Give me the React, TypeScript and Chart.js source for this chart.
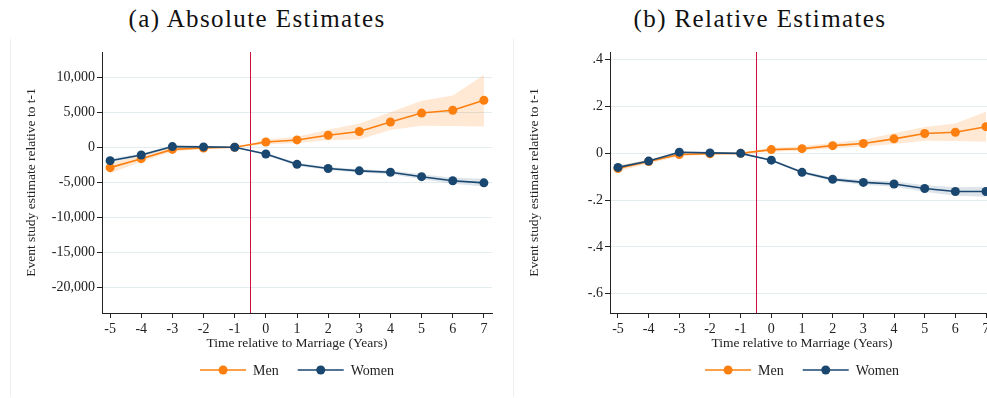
import React, { useEffect, useRef } from "react";
import { Chart, registerables } from "chart.js";

Chart.register(...registerables);

// ---------- data ----------
const years = [-5, -4, -3, -2, -1, 0, 1, 2, 3, 4, 5, 6, 7];

const absMen = [-2900, -1620, -300, -100, 0, 750, 1050, 1710, 2260, 3600, 4880, 5280, 6700];
const absMenLo = [-3700, -2050, -600, -250, 0, 400, 600, 1000, 1100, 2450, 3080, 3040, 2950];
const absMenHi = [-2250, -1200, 0, 50, 0, 1100, 1500, 2500, 3400, 5000, 6650, 7400, 10300];
const absWomen = [-1910, -1100, 100, 60, 0, -950, -2430, -3030, -3360, -3560, -4190, -4770, -5070];
const absWomenLo = [-2150, -1300, -50, -50, 0, -1150, -2650, -3250, -3600, -3850, -4550, -5200, -5600];
const absWomenHi = [-1650, -900, 250, 170, 0, -750, -2200, -2800, -3120, -3300, -3850, -4350, -4500];

const relMen = [-0.065, -0.035, -0.005, -0.002, 0, 0.016, 0.02, 0.033, 0.042, 0.062, 0.085, 0.09, 0.114];
const relMenLo = [-0.078, -0.043, -0.012, -0.006, 0, 0.008, 0.011, 0.022, 0.028, 0.04, 0.054, 0.053, 0.05];
const relMenHi = [-0.052, -0.027, 0.002, 0.002, 0, 0.024, 0.03, 0.045, 0.058, 0.086, 0.113, 0.128, 0.178];
const relWomen = [-0.06, -0.033, 0.005, 0.002, 0, -0.029, -0.081, -0.111, -0.124, -0.131, -0.15, -0.163, -0.163];
const relWomenLo = [-0.066, -0.038, 0.001, -0.001, 0, -0.033, -0.087, -0.119, -0.134, -0.143, -0.164, -0.181, -0.185];
const relWomenHi = [-0.054, -0.028, 0.009, 0.005, 0, -0.025, -0.075, -0.103, -0.114, -0.119, -0.136, -0.145, -0.143];

const xTicks = [-5, -4, -3, -2, -1, 0, 1, 2, 3, 4, 5, 6, 7];
const absTicks = [-20000, -15000, -10000, -5000, 0, 5000, 10000];
const absTickLabels = ["-20,000", "-15,000", "-10,000", "-5,000", "0", "5,000", "10,000"];
const relTicks = [-0.6, -0.4, -0.2, 0, 0.2, 0.4];
const relTickLabels = ["-.6", "-.4", "-.2", "0", ".2", ".4"];

const seriesLabels = ["Men", "Women"];
const markerYear = -0.5;
const xTitle = "Time relative to Marriage (Years)";
const yTitle = "Event study estimate relative to t-1";
const panelTitles = ["(a) Absolute Estimates", "(b) Relative Estimates"];

// ---------- style ----------
const ORANGE = "#fd7f0f";
const NAVY = "#1a476f";
const ORANGE_BAND = "rgba(253,127,15,0.18)";
const NAVY_BAND = "rgba(26,71,111,0.15)";
const RED = "#d0103a";
const GRID = "#e3ecef";
const AXIS = "#222222";
const FONT = "'Liberation Serif', 'Times New Roman', serif";

const pts = (vals: number[]) => years.map((x, i) => ({ x, y: vals[i] }));

const markerPlugin = {
  id: "marker",
  beforeDatasetsDraw(chart: any) {
    const { ctx, chartArea, scales } = chart;
    const x = Math.round(scales.x.getPixelForValue(markerYear)) + 0.5;
    ctx.save();
    ctx.strokeStyle = RED;
    ctx.lineWidth = 1;
    ctx.beginPath();
    ctx.moveTo(x, chartArea.top);
    ctx.lineTo(x, chartArea.bottom);
    ctx.stroke();
    ctx.restore();
  },
};

const legendPlugin = {
  id: "customLegend",
  afterDraw(chart: any) {
    const { ctx, chartArea } = chart;
    const items = chart.data.datasets.filter((d: any) => d.isSeries);
    ctx.save();
    ctx.font = `14px ${FONT}`;
    const lineW = 46, gap = 7, itemGap = 19;
    const widths = items.map((d: any) => ctx.measureText(d.label).width);
    let total = 0;
    items.forEach((_: any, i: number) => {
      total += lineW + gap + widths[i] + (i < items.length - 1 ? itemGap : 0);
    });
    let x = (chartArea.left + chartArea.right) / 2 - total / 2;
    const y = 370;
    items.forEach((d: any, i: number) => {
      ctx.strokeStyle = d.borderColor;
      ctx.lineWidth = 1.6;
      ctx.beginPath();
      ctx.moveTo(x, y);
      ctx.lineTo(x + lineW, y);
      ctx.stroke();
      ctx.fillStyle = d.borderColor;
      ctx.beginPath();
      ctx.arc(x + lineW / 2, y, 4.5, 0, Math.PI * 2);
      ctx.fill();
      ctx.fillStyle = AXIS;
      ctx.textAlign = "left";
      ctx.textBaseline = "middle";
      ctx.fillText(d.label, x + lineW + gap, y + 1);
      x += lineW + gap + widths[i] + itemGap;
    });
    ctx.restore();
  },
};

type PanelCfg = {
  men: number[]; menLo: number[]; menHi: number[];
  women: number[]; womenLo: number[]; womenHi: number[];
  yTicks: number[]; yLabels: string[];
  yMin: number; yMax: number;
  yAxisWidth: number; rightPad: number;
};

function buildChart(canvas: HTMLCanvasElement, p: PanelCfg) {
  const band = (data: number[], color: string, fill: any, order: number) => ({
    label: "",
    data: pts(data),
    borderWidth: 0,
    borderColor: "transparent",
    backgroundColor: color,
    pointRadius: 0,
    fill,
    order,
    tension: 0,
  });
  const series = (label: string, data: number[], color: string, order: number) => ({
    label,
    isSeries: true,
    data: pts(data),
    borderColor: color,
    backgroundColor: color,
    borderWidth: 1.6,
    pointRadius: 4.5,
    pointBorderWidth: 0,
    pointBackgroundColor: color,
    fill: false,
    order,
    tension: 0,
  });
  return new Chart(canvas, {
    type: "line",
    data: {
      datasets: [
        band(p.menHi, ORANGE_BAND, false, 3),
        band(p.menLo, ORANGE_BAND, 0, 3),
        band(p.womenHi, NAVY_BAND, false, 2),
        band(p.womenLo, NAVY_BAND, 2, 2),
        series(seriesLabels[0], p.men, ORANGE, 1),
        series(seriesLabels[1], p.women, NAVY, 0),
      ] as any,
    },
    options: {
      animation: false,
      responsive: false,
      events: [],
      layout: { padding: { top: 52, right: p.rightPad, left: 0, bottom: 0 } },
      plugins: { legend: { display: false }, tooltip: { enabled: false }, title: { display: false } },
      scales: {
        x: {
          type: "linear",
          min: -5.26,
          max: 7.26,
          afterBuildTicks: (s: any) => { s.ticks = xTicks.map((v) => ({ value: v })); },
          afterFit: (s: any) => { s.height = 85; },
          grid: { display: true, drawOnChartArea: false, drawTicks: true, tickLength: 5, tickColor: AXIS },
          border: { display: true, color: AXIS, width: 1 },
          ticks: { color: AXIS, font: { family: FONT, size: 14 }, padding: 3, maxRotation: 0, autoSkip: false },
          title: { display: true, text: xTitle, color: AXIS, font: { family: FONT, size: 13.5 }, padding: { top: 0, bottom: 46 } },
        },
        y: {
          type: "linear",
          min: p.yMin,
          max: p.yMax,
          afterBuildTicks: (s: any) => { s.ticks = p.yTicks.map((v) => ({ value: v })); },
          afterFit: (s: any) => { s.width = p.yAxisWidth; },
          grid: { display: true, drawOnChartArea: true, color: GRID, lineWidth: 1, drawTicks: true, tickLength: 5, tickColor: AXIS },
          border: { display: true, color: AXIS, width: 1 },
          ticks: {
            color: AXIS,
            font: { family: FONT, size: 14 },
            padding: 2,
            autoSkip: false,
            callback: (v: any) => p.yLabels[p.yTicks.indexOf(v)] ?? "",
          },
          title: { display: true, text: yTitle, color: AXIS, font: { family: FONT, size: 13.5 }, padding: { top: 23, bottom: 0 } },
        },
      },
    } as any,
    plugins: [markerPlugin, legendPlugin],
  });
}

export default function App() {
  const leftRef = useRef<HTMLCanvasElement>(null);
  const rightRef = useRef<HTMLCanvasElement>(null);

  useEffect(() => {
    const a = buildChart(leftRef.current!, {
      men: absMen, menLo: absMenLo, menHi: absMenHi,
      women: absWomen, womenLo: absWomenLo, womenHi: absWomenHi,
      yTicks: absTicks, yLabels: absTickLabels,
      yMin: -23630, yMax: 13590, yAxisWidth: 102, rightPad: 11,
    });
    const b = buildChart(rightRef.current!, {
      men: relMen, menLo: relMenLo, menHi: relMenHi,
      women: relWomen, womenLo: relWomenLo, womenHi: relWomenHi,
      yTicks: relTicks, yLabels: relTickLabels,
      yMin: -0.682, yMax: 0.433, yAxisWidth: 107, rightPad: 12,
    });
    return () => { a.destroy(); b.destroy(); };
  }, []);

  const titleStyle = (center: number): React.CSSProperties => ({
    position: "absolute",
    left: center - 250,
    width: 500,
    top: 6,
    textAlign: "center",
    fontFamily: FONT,
    fontSize: 25,
    lineHeight: "25px",
    letterSpacing: "1.4px",
    color: "#111",
    whiteSpace: "nowrap",
  });
  const border = (x: number): React.CSSProperties => ({
    position: "absolute",
    left: x,
    top: 39,
    width: 1,
    height: 358,
    background: "#eeeeee",
  });

  return (
    <div style={{ position: "fixed", left: 0, top: 0, width: 987, height: 398, overflow: "hidden", background: "#fff" }}>
      <div style={border(10)} />
      <div style={border(513)} />
      <div style={titleStyle(257)}>{panelTitles[0]}</div>
      <div style={titleStyle(760)}>{panelTitles[1]}</div>
      <canvas ref={leftRef} width={503} height={398} style={{ position: "absolute", left: 0, top: 0 }} />
      <canvas ref={rightRef} width={503} height={398} style={{ position: "absolute", left: 503, top: 0 }} />
    </div>
  );
}
